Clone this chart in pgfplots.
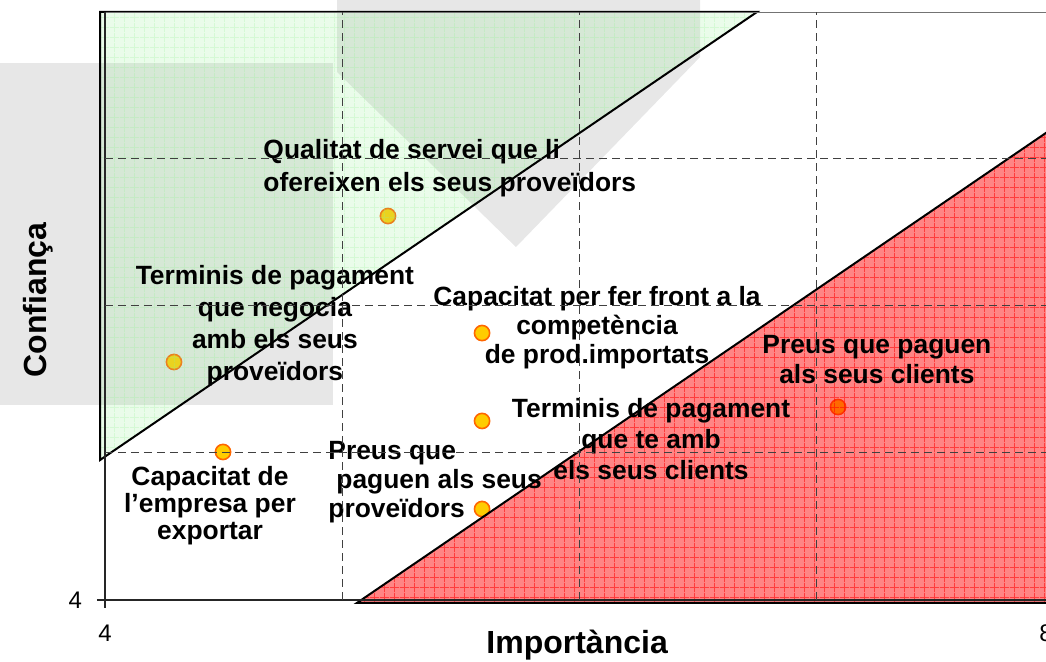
\documentclass[border=0pt]{standalone}
\usepackage{fontspec}
\setmainfont{Liberation Sans}
\usepackage{pgfplots}
\pgfplotsset{compat=1.18}
\usetikzlibrary{patterns}

% fine square grid laid over the two zones
\pgfdeclarepatternformonly{finegrid}{\pgfpointorigin}{\pgfqpoint{5pt}{5pt}}{\pgfqpoint{5pt}{5pt}}{%
  \pgfsetlinewidth{0.45pt}%
  \pgfpathmoveto{\pgfqpoint{0pt}{2.5pt}}\pgfpathlineto{\pgfqpoint{5pt}{2.5pt}}%
  \pgfpathmoveto{\pgfqpoint{2.5pt}{0pt}}\pgfpathlineto{\pgfqpoint{2.5pt}{5pt}}%
  \pgfusepath{stroke}}

\definecolor{ptfill}{RGB}{255,204,0}
\definecolor{ptedge}{RGB}{255,102,0}
\definecolor{shade}{RGB}{231,231,231}
\definecolor{greenzone}{RGB}{150,240,150}
\definecolor{greengrid}{RGB}{150,240,150}
\definecolor{redzone}{RGB}{255,0,0}

\begin{document}
\begin{tikzpicture}[x=1pt,y=1pt]
\begin{axis}[
  at={(0,0)}, anchor=south west,
  scale only axis, width=474pt, height=294pt,
  xmin=4, xmax=8, ymin=4, ymax=8,
  clip=false, clip mode=individual,
  axis lines=left,
  axis line style={-, black!85, line width=0.6pt},
  xtick={4,8}, xticklabels={4,\hspace{-7pt}8},
  ytick={4},
  tick align=outside, major tick length=4pt,
  tick style={black!85, line width=0.6pt},
  extra x ticks={5,6,7}, extra y ticks={5,6,7},
  extra x tick labels={}, extra y tick labels={},
  extra tick style={grid=major, major tick length=0pt},
  major grid style={black!75, line width=0.5pt, dash pattern=on 4pt off 2.5pt},
  axis on top,
  tick label style={font=\fontsize{12}{14}\selectfont},
  xticklabel style={yshift=-5pt},
  yticklabel style={xshift=-4pt},
  /pgf/number format/assume math mode=true,
  xlabel={Importància},
  ylabel={Confiança},
  xlabel style={font=\bfseries\fontsize{16}{18}\selectfont, at={(axis description cs:0.498,0)}, anchor=center, yshift=-22.5pt},
  ylabel style={font=\bfseries\fontsize{16}{18}\selectfont, at={(axis description cs:0,0.51)}, anchor=center, yshift=33.5pt},
]
% grey shadows behind the chart
\addplot[draw=none, fill=shade] coordinates {(3.557,5.327) (4.962,5.327) (4.962,7.653) (3.557,7.653)} -- cycle;
\addplot[draw=none, fill=shade] coordinates {(4.979,8.082) (6.511,8.082) (6.511,7.694) (5.734,6.401) (4.979,7.592)} -- cycle;

% points
\addplot[only marks, mark=*, mark size=3.8pt, mark options={fill=ptfill, draw=ptedge, line width=0.8pt}] coordinates {
  (5.194,6.612) (4.291,5.619) (4.498,5.007) (5.591,5.816) (5.591,5.218) (5.591,4.619) (7.093,5.313)
};

% green zone
\addplot[draw=none, fill=greenzone, fill opacity=0.2] coordinates {(3.979,4.952) (3.979,8) (6.751,8)} -- cycle;
\addplot[draw=none, pattern=finegrid, pattern color=greengrid, fill opacity=0.25] coordinates {(3.979,4.952) (3.979,8) (6.751,8)} -- cycle;
\addplot[draw=black, line width=1pt] coordinates {(3.979,4.952) (3.979,8) (6.751,8)} -- cycle;

% red zone
\addplot[draw=none, fill=redzone, fill opacity=0.48] coordinates {(5.063,3.98) (8,7.21) (8,3.98)} -- cycle;
\addplot[draw=none, pattern=finegrid, pattern color=redzone, fill opacity=0.55] coordinates {(5.063,3.98) (8,7.21) (8,3.98)} -- cycle;
\addplot[draw=black, line width=1pt] coordinates {(5.063,3.98) (8,7.21) (8,3.98)} -- cycle;

% thin top border of the plot area
\draw[black!55, line width=0.4pt] (rel axis cs:0,1) -- (rel axis cs:1,1);

% labels
\node[anchor=west, align=left, inner sep=0pt, font=\bfseries\fontsize{13.2}{16.5}\selectfont] at (axis cs:4.667,6.939) {Qualitat de servei que li\\ofereixen els seus proveïdors};
\node[align=center, inner sep=0pt, font=\bfseries\fontsize{13.2}{16}\selectfont] at (axis cs:4.717,5.864) {Terminis de pagament\\que negocia\\amb els seus\\proveïdors};
\node[align=center, inner sep=0pt, font=\bfseries\fontsize{13.2}{14.5}\selectfont] at (axis cs:6.076,5.850) {Capacitat per fer front a la\\competència\\de prod.importats};
\node[align=center, inner sep=0pt, font=\bfseries\fontsize{13.2}{15}\selectfont] at (axis cs:7.257,5.633) {Preus que paguen\\als seus clients};
\node[align=center, inner sep=0pt, font=\bfseries\fontsize{13.2}{15.5}\selectfont] at (axis cs:6.304,5.095) {Terminis de pagament\\que te amb\\els seus clients};
\node[align=center, inner sep=0pt, font=\bfseries\fontsize{13.2}{13.5}\selectfont] at (axis cs:4.443,4.639) {Capacitat de\\l’empresa per\\exportar};
\node[anchor=west, align=left, inner sep=0pt, font=\bfseries\fontsize{13.2}{14.5}\selectfont] at (axis cs:4.941,4.803) {Preus que\\\hspace{4pt}paguen als seus\\proveïdors};
\end{axis}
\pgfresetboundingbox
\path (-52.5pt,-31pt) rectangle (470.5pt,300pt);
\end{tikzpicture}
\end{document}
